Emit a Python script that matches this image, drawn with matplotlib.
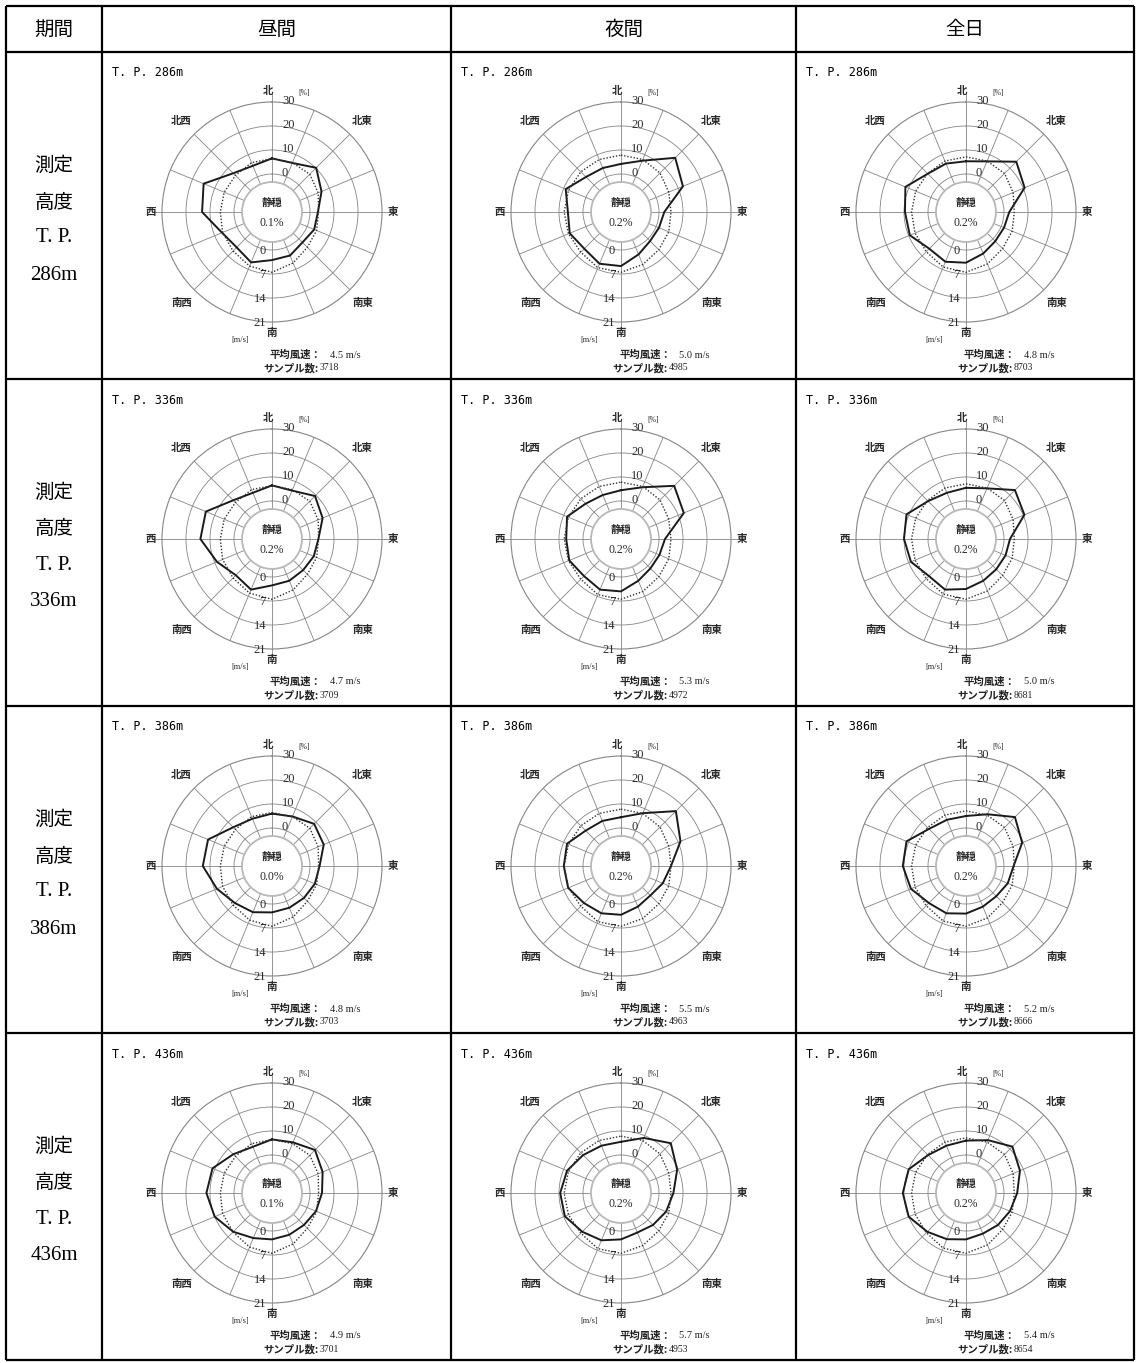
import numpy as np
import matplotlib.pyplot as plt
from matplotlib.transforms import offset_copy

# 16方位 (北から時計回り)
directions = ["北", "北北東", "北東", "東北東", "東", "東南東", "南東", "南南東",
              "南", "南南西", "南西", "西南西", "西", "西北西", "北西", "北北西"]
periods = ["昼間", "夜間", "全日"]
heights = ["286m", "336m", "386m", "436m"]

# 出現頻度 [%]  (行: T.P.286m, 336m, 386m, 436m)
freq_day = [
    [6.5, 6.3, 10.2, 6.5, 3.3, 3.2, 2.1, 3.8, 4.2, 6.9, 5.0, 6.7, 13.3, 15.0, 7.0, 5.0],
    [6.5, 6.0, 9.5, 7.0, 3.5, 3.0, 2.5, 3.0, 3.5, 7.0, 5.5, 9.0, 14.0, 14.0, 7.0, 5.0],
    [6.0, 6.5, 9.0, 7.5, 4.0, 3.5, 3.0, 3.0, 3.5, 5.0, 6.0, 9.0, 13.0, 13.0, 7.0, 5.5],
    [6.5, 7.0, 9.5, 7.0, 5.0, 4.0, 3.0, 3.0, 3.5, 4.5, 7.0, 10.0, 11.5, 11.0, 7.0, 5.0],
]
freq_night = [
    [4.2, 7.3, 16.1, 12.1, 2.2, 1.3, 1.3, 3.3, 6.7, 7.5, 5.8, 7.3, 6.3, 9.1, 4.8, 4.0],
    [4.5, 7.5, 15.5, 12.5, 2.5, 1.5, 1.5, 3.0, 6.0, 7.0, 6.0, 7.5, 7.0, 8.5, 5.0, 4.0],
    [4.5, 8.0, 16.5, 11.0, 5.0, 3.0, 1.5, 2.5, 4.5, 5.5, 6.0, 8.0, 8.0, 8.5, 5.0, 4.5],
    [5.5, 9.0, 13.5, 9.5, 6.0, 4.5, 3.0, 2.0, 3.5, 5.5, 7.0, 9.5, 9.5, 8.5, 6.5, 5.5],
]
freq_all = [
    [5.3, 7.0, 13.8, 10.6, 2.2, 1.3, 1.4, 2.9, 5.3, 6.6, 5.8, 9.5, 9.6, 11.5, 6.7, 6.0],
    [5.5, 7.0, 13.0, 10.5, 2.5, 2.0, 2.0, 3.0, 5.0, 7.0, 6.0, 9.0, 10.0, 11.0, 6.5, 5.0],
    [5.0, 7.5, 13.0, 9.5, 4.0, 3.0, 2.0, 2.5, 4.0, 5.5, 6.0, 9.0, 10.5, 11.0, 6.0, 5.0],
    [6.0, 8.0, 11.5, 8.5, 5.5, 4.0, 3.0, 2.5, 3.5, 5.0, 7.0, 10.0, 10.5, 10.0, 6.5, 5.5],
]

# 方位別平均風速 [m/s]
speed_day = [
    [4.5, 4.5, 4.5, 3.5, 2.5, 3.0, 3.5, 5.0, 6.5, 6.0, 5.0, 4.5, 4.0, 4.0, 4.0, 4.5],
    [4.5, 4.5, 4.5, 3.5, 2.5, 3.0, 3.5, 5.0, 6.5, 6.0, 5.0, 4.5, 4.0, 4.0, 4.0, 4.5],
    [4.5, 4.5, 4.5, 3.5, 2.5, 3.0, 3.5, 5.0, 6.5, 6.0, 5.0, 4.5, 4.0, 4.0, 4.0, 4.5],
    [4.5, 4.5, 4.5, 3.5, 2.5, 3.0, 3.5, 5.0, 6.5, 6.0, 5.0, 4.5, 4.0, 4.0, 4.0, 4.5],
]
speed_night = [
    [5.5, 5.5, 5.0, 4.0, 3.5, 4.0, 4.5, 5.5, 6.5, 6.5, 5.5, 5.5, 5.5, 5.5, 5.5, 5.5],
    [5.5, 5.5, 5.0, 4.0, 3.5, 4.0, 4.5, 5.5, 6.5, 6.5, 5.5, 5.5, 5.5, 5.5, 5.5, 5.5],
    [5.5, 5.5, 5.0, 4.0, 3.5, 4.0, 4.5, 5.5, 6.5, 6.5, 5.5, 5.5, 5.5, 5.5, 5.5, 5.5],
    [5.5, 5.5, 5.0, 4.0, 3.5, 4.0, 4.5, 5.5, 6.5, 6.5, 5.5, 5.5, 5.5, 5.5, 5.5, 5.5],
]
speed_all = [
    [5.0, 5.0, 4.8, 3.8, 3.0, 3.5, 4.0, 5.3, 6.5, 6.3, 5.3, 5.0, 4.8, 4.8, 4.8, 5.0],
    [5.0, 5.0, 4.8, 3.8, 3.0, 3.5, 4.0, 5.3, 6.5, 6.3, 5.3, 5.0, 4.8, 4.8, 4.8, 5.0],
    [5.0, 5.0, 4.8, 3.8, 3.0, 3.5, 4.0, 5.3, 6.5, 6.3, 5.3, 5.0, 4.8, 4.8, 4.8, 5.0],
    [5.0, 5.0, 4.8, 3.8, 3.0, 3.5, 4.0, 5.3, 6.5, 6.3, 5.3, 5.0, 4.8, 4.8, 4.8, 5.0],
]

calm_day = [0.1, 0.2, 0.0, 0.1]
calm_night = [0.2, 0.2, 0.2, 0.2]
calm_all = [0.2, 0.2, 0.2, 0.2]
mean_day = [4.5, 4.7, 4.8, 4.9]
mean_night = [5.0, 5.3, 5.5, 5.7]
mean_all = [4.8, 5.0, 5.2, 5.4]
n_day = [3718, 3709, 3703, 3701]
n_night = [4985, 4972, 4963, 4953]
n_all = [8703, 8681, 8666, 8654]

pct_ticks = [0, 10, 20, 30]
spd_ticks = [0, 7, 14, 21]

JP = "Noto Sans CJK JP"
SERIF = "Liberation Serif"
GRID = "#858585"
INK = "#2a2a2a"

W, H = 1136, 1363
fig = plt.figure(figsize=(W / 100, H / 100), dpi=100)
base = fig.add_axes([0, 0, 1, 1])
base.set_xlim(0, W)
base.set_ylim(H, 0)
base.axis("off")

# 表の罫線
col_x = [6, 102, 451, 796, 1134]
row_y = [6, 52, 379, 706, 1033, 1360]
base.vlines(col_x, row_y[0], row_y[-1], color="k", lw=1.6)
base.hlines(row_y, col_x[0], col_x[-1], color="k", lw=1.6)

# 見出し
base.text((col_x[0] + col_x[1]) / 2, 29, "期間", ha="center", va="center",
          family=JP, fontsize=14)
for j, p in enumerate(periods):
    base.text((col_x[j + 1] + col_x[j + 2]) / 2, 29, p, ha="center", va="center",
              family=JP, fontsize=14)

for i, h in enumerate(heights):
    top = row_y[i + 1]
    xc = (col_x[0] + col_x[1]) / 2
    base.text(xc, top + 113, "測定", ha="center", va="center", family=JP, fontsize=14)
    base.text(xc, top + 150, "高度", ha="center", va="center", family=JP, fontsize=14)
    base.text(xc, top + 186, "T. P.", ha="center", va="center", family=SERIF, fontsize=15)
    base.text(xc, top + 223, h, ha="center", va="center", family=SERIF, fontsize=15)

# 風配図の寸法 (px)
R_OUT, R0, R_IN = 110, 38, 30
theta = np.deg2rad(np.arange(16) * 22.5)
theta_c = np.append(theta, theta[0])


def polar_axes(cx, cy, vmax, name):
    rect = [(cx - R_OUT) / W, (H - cy - R_OUT) / H, 2 * R_OUT / W, 2 * R_OUT / H]
    ax = fig.add_axes(rect, projection="polar", label=name)
    ax.set_theta_zero_location("N")
    ax.set_theta_direction(-1)
    k = vmax / (R_OUT - R0)
    ax.set_ylim(-(R0 - R_IN) * k, vmax)
    ax.set_rorigin(-R0 * k)
    return ax, k


def draw_rose(cx, cy, freq, speed, calm, mean, n, name):
    ax, k = polar_axes(cx, cy, 30, name + "_pct")
    ax.set_xticks(theta)
    ax.set_xticklabels([])
    ax.set_yticks(pct_ticks[:-1])
    ax.set_yticklabels([])
    ax.tick_params(length=0)
    ax.grid(color=GRID, lw=0.6)
    ax.spines["polar"].set_color(GRID)
    ax.spines["polar"].set_linewidth(0.8)
    ax.spines["inner"].set_color("#b8b8b8")
    ax.spines["inner"].set_linewidth(1.3)
    ax.patch.set_alpha(0)

    # 東西南北の軸線は外周より少し伸ばす
    for th in np.deg2rad([0, 90, 180, 270]):
        ax.plot([th, th], [30, 30 + 7 * k], color=GRID, lw=0.6, clip_on=False)

    ax.plot(theta_c, np.append(freq, freq[0]), color="#1a1a1a", lw=1.4, zorder=5)

    for v in pct_ticks:
        ax.text(0, v, str(v), transform=offset_copy(ax.transData, fig=fig, x=10, y=1, units="dots"),
                ha="left", va="center", family=SERIF, fontsize=9, color=INK)
    ax.text(0, 30, "[%]", transform=offset_copy(ax.transData, fig=fig, x=26, y=9, units="dots"),
            ha="left", va="center", family=SERIF, fontsize=5.5, color=INK)

    # 方位名
    card = [("北", 0, 121, -4), ("北東", 45, 128, 0), ("東", 90, 121, 0), ("南東", 135, 128, 0),
            ("南", 180, 121, 0), ("南西", 225, 128, 0), ("西", 270, 121, 0), ("北西", 315, 128, 0)]
    for lab, deg, rpx, dx in card:
        ax.text(np.deg2rad(deg), (rpx - R0) * k, lab,
                transform=offset_copy(ax.transData, fig=fig, x=dx, y=0, units="dots"),
                ha="center", va="center", family=JP, fontsize=7.5, fontweight="bold",
                color=INK, clip_on=False)

    ax2, k2 = polar_axes(cx, cy, 21, name + "_spd")
    ax2.axis("off")
    ax2.plot(theta_c, np.append(speed, speed[0]), color="#303030", lw=1.0,
             ls=(0, (1, 1.3)), zorder=4)
    for v in spd_ticks:
        ax2.text(np.pi, v, str(v), transform=offset_copy(ax2.transData, fig=fig, x=-6, y=-1, units="dots"),
                 ha="right", va="center", family=SERIF, fontsize=9, color=INK)
    ax2.text(np.pi, 21, "[m/s]", transform=offset_copy(ax2.transData, fig=fig, x=-32, y=-18, units="dots"),
             ha="center", va="center", family=SERIF, fontsize=6, color=INK)

    # 中央の静穏率
    base.text(cx, cy - 9, "静穏", ha="center", va="center", family=JP, fontsize=7.5,
              fontweight="bold", color=INK)
    base.text(cx, cy + 11, f"{calm:.1f}%", ha="center", va="center", family=SERIF,
              fontsize=8.5, color=INK)

    t1 = base.text(cx - 2, cy + 143, "平均風速：", ha="left", va="center", family=JP,
                   fontsize=7.5, fontweight="bold", color="#222222")
    base.annotate(f"{mean:.1f} m/s", xy=(1, 0.5), xycoords=t1, xytext=(6, 0),
                  textcoords="offset points", ha="left", va="center", family=SERIF,
                  fontsize=7.5, color="#222222")
    t2 = base.text(cx - 9, cy + 156, "サンプル数:", ha="left", va="center", family=JP,
                   fontsize=7.5, fontweight="bold", color="#222222")
    base.annotate(f"{n}", xy=(1, 0.5), xycoords=t2, xytext=(1, 0),
                  textcoords="offset points", ha="left", va="center", family=SERIF,
                  fontsize=7, color="#222222")


groups = [
    (freq_day, speed_day, calm_day, mean_day, n_day),
    (freq_night, speed_night, calm_night, mean_night, n_night),
    (freq_all, speed_all, calm_all, mean_all, n_all),
]

for i, h in enumerate(heights):
    top = row_y[i + 1]
    for j, (fr, sp, cl, mn, nn) in enumerate(groups):
        left = col_x[j + 1]
        base.text(left + 10, top + 21, f"T. P. {h}", ha="left", va="center",
                  family="DejaVu Sans Mono", fontsize=8.5)
        draw_rose(left + 170, top + 160, fr[i], sp[i], cl[i], mn[i], nn[i], f"r{i}c{j}")

fig.savefig("out.png", dpi=100)
